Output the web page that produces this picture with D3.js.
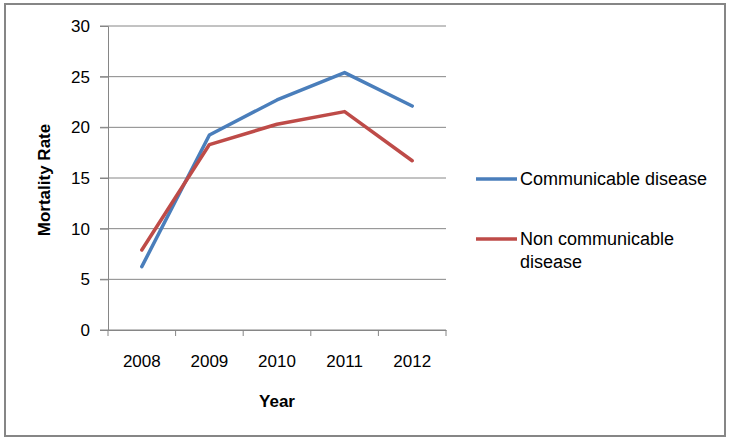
<!DOCTYPE html>
<html>
<head>
<meta charset="utf-8">
<script src="https://cdn.jsdelivr.net/npm/d3@7"></script>
<style>
  body { margin: 0; background: #fff; }
  svg text { font-family: "Liberation Sans", Arial, sans-serif; fill: #000; }
</style>
</head>
<body>
<div id="chart"></div>
<script>
var years = ["2008", "2009", "2010", "2011", "2012"];
var communicable = [6.25, 19.25, 22.7, 25.4, 22.1];
var nonCommunicable = [7.9, 18.3, 20.3, 21.55, 16.7];
var yTicks = [0, 5, 10, 15, 20, 25, 30];
var seriesNames = ["Communicable disease", "Non communicable disease"];
var seriesColors = ["#4A7EBB", "#BE4B48"];

var width = 731, height = 441;

var svg = d3.select("#chart").append("svg")
    .attr("width", width)
    .attr("height", height);

// outer frame
svg.append("rect")
    .attr("x", 5).attr("y", 4)
    .attr("width", 720).attr("height", 432)
    .attr("fill", "#fff")
    .attr("stroke", "#868686")
    .attr("stroke-width", 2);

var x = d3.scaleBand()
    .domain(years)
    .range([108, 446]);

var y = d3.scaleLinear()
    .domain([0, 30])
    .range([330, 26]);

// gridlines
svg.append("g")
    .selectAll("line")
    .data(yTicks)
    .enter().append("line")
    .attr("x1", 100).attr("x2", 446)
    .attr("y1", function(d) { return y(d); })
    .attr("y2", function(d) { return y(d); })
    .attr("stroke", "#868686")
    .attr("stroke-width", 1);

// y axis
var yAxis = svg.append("g")
    .attr("transform", "translate(108,0)")
    .call(d3.axisLeft(y).tickValues(yTicks).tickSize(8).tickPadding(10));
yAxis.select(".domain").attr("stroke", "#868686");
yAxis.selectAll(".tick line").attr("stroke", "#868686");
yAxis.selectAll("text").style("font-size", "17px").attr("fill", "#000");

// x axis
var xAxis = svg.append("g")
    .attr("transform", "translate(0,330)")
    .call(d3.axisBottom(x).tickSize(0).tickPadding(25));
xAxis.select(".domain").attr("stroke", "#868686");
xAxis.selectAll("text").style("font-size", "17px").attr("fill", "#000");

// category boundary ticks
var bounds = years.map(function(d) { return x(d); }).concat([x.range()[1]]);
svg.append("g")
    .selectAll("line")
    .data(bounds)
    .enter().append("line")
    .attr("x1", function(d) { return d; })
    .attr("x2", function(d) { return d; })
    .attr("y1", 330).attr("y2", 336)
    .attr("stroke", "#868686");

// axis titles
svg.append("text")
    .attr("x", 277).attr("y", 407)
    .attr("text-anchor", "middle")
    .style("font-size", "17px")
    .style("font-weight", "bold")
    .text("Year");

svg.append("text")
    .attr("transform", "translate(50,180) rotate(-90)")
    .attr("text-anchor", "middle")
    .style("font-size", "17px")
    .style("font-weight", "bold")
    .text("Mortality Rate");

// lines
var line = d3.line()
    .x(function(d, i) { return x(years[i]) + x.bandwidth() / 2; })
    .y(function(d) { return y(d); });

[communicable, nonCommunicable].forEach(function(values, i) {
    svg.append("path")
        .datum(values)
        .attr("d", line)
        .attr("fill", "none")
        .attr("stroke", seriesColors[i])
        .attr("stroke-width", 3.5)
        .attr("stroke-linejoin", "round")
        .attr("stroke-linecap", "round");
});

// legend
var legendY = [179, 239];
var legendLines = [["Communicable disease"], ["Non communicable", "disease"]];
legendY.forEach(function(ly, i) {
    svg.append("line")
        .attr("x1", 476).attr("x2", 517)
        .attr("y1", ly).attr("y2", ly)
        .attr("stroke", seriesColors[i])
        .attr("stroke-width", 3.5);
    legendLines[i].forEach(function(t, j) {
        svg.append("text")
            .attr("x", 520)
            .attr("y", ly + 6 + j * 23)
            .style("font-size", "18px")
            .text(t);
    });
});
</script>
</body>
</html>
